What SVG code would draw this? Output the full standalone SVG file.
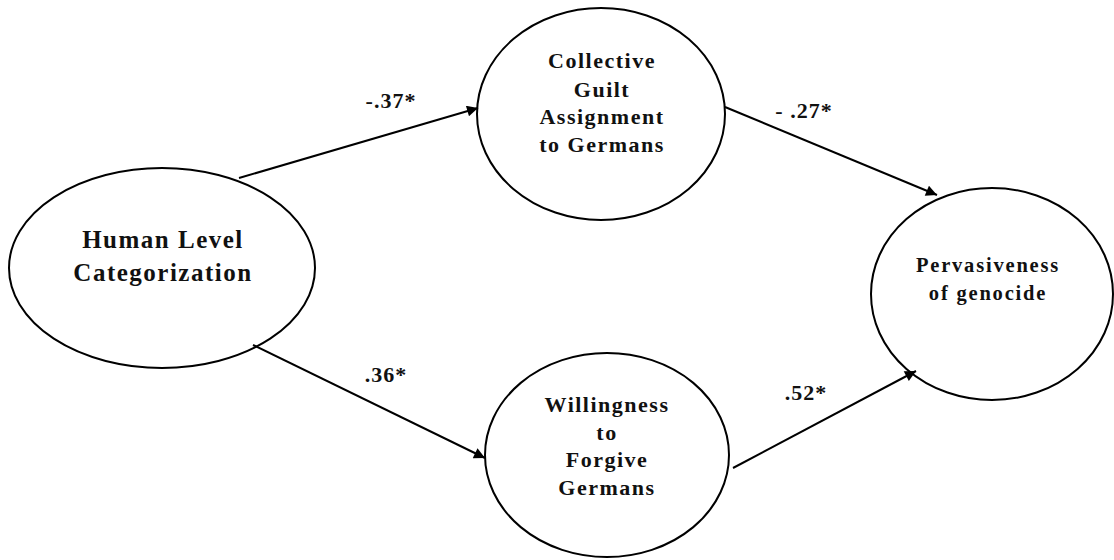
<svg xmlns="http://www.w3.org/2000/svg" width="1114" height="560" viewBox="0 0 1114 560">
<style>
.node ellipse{fill:#fff;stroke:#000;stroke-width:2}
.t{font-family:"Liberation Serif","Times New Roman",serif;font-weight:bold;fill:#111;text-anchor:middle;letter-spacing:1.5px}
.big{font-size:25px}
.mid{font-size:22px}
.sm{font-size:20.5px;letter-spacing:1.8px}
.lbl{font-family:"Liberation Serif","Times New Roman",serif;font-weight:bold;font-size:22px;letter-spacing:1px;fill:#111;text-anchor:middle}
.edge{stroke:#000;stroke-width:2;fill:none;marker-end:url(#ah)}
</style>
<defs>
<marker id="ah" viewBox="0 0 10 10" refX="10" refY="5" markerWidth="14" markerHeight="11" markerUnits="userSpaceOnUse" orient="auto">
<path d="M0,0 L10,5 L0,10 z" fill="#000"/>
</marker>
</defs>
<rect width="1114" height="560" fill="#fff"/>
<g id="human" class="node">
<ellipse cx="162" cy="268" rx="153" ry="100"/>
<text class="t big" x="163" y="248">Human Level</text>
<text class="t big" x="163" y="281">Categorization</text>
</g>
<g id="guilt" class="node">
<ellipse cx="601" cy="114" rx="124" ry="106"/>
<text class="t mid" x="602" y="68">Collective</text>
<text class="t mid" x="602" y="97">Guilt</text>
<text class="t mid" x="602" y="124">Assignment</text>
<text class="t mid" x="602" y="152">to Germans</text>
</g>
<g id="forgive" class="node">
<ellipse cx="607" cy="455" rx="122" ry="102"/>
<text class="t mid" x="607" y="412">Willingness</text>
<text class="t mid" x="607" y="440">to</text>
<text class="t mid" x="607" y="467">Forgive</text>
<text class="t mid" x="607" y="495">Germans</text>
</g>
<g id="genocide" class="node">
<ellipse cx="992" cy="294" rx="121" ry="106"/>
<text class="t sm" x="988" y="272">Pervasiveness</text>
<text class="t sm" x="988" y="300">of genocide</text>
</g>
<g id="connectors">
<line class="edge" x1="239" y1="178" x2="478" y2="108"/>
<line class="edge" x1="725" y1="107" x2="937" y2="195"/>
<line class="edge" x1="253" y1="345" x2="485" y2="458"/>
<line class="edge" x1="733" y1="468" x2="916" y2="371"/>
<text class="lbl" x="391" y="108">-.37*</text>
<text class="lbl" x="804" y="118">- .27*</text>
<text class="lbl" x="386" y="382">.36*</text>
<text class="lbl" x="806" y="400">.52*</text>
</g>
</svg>
